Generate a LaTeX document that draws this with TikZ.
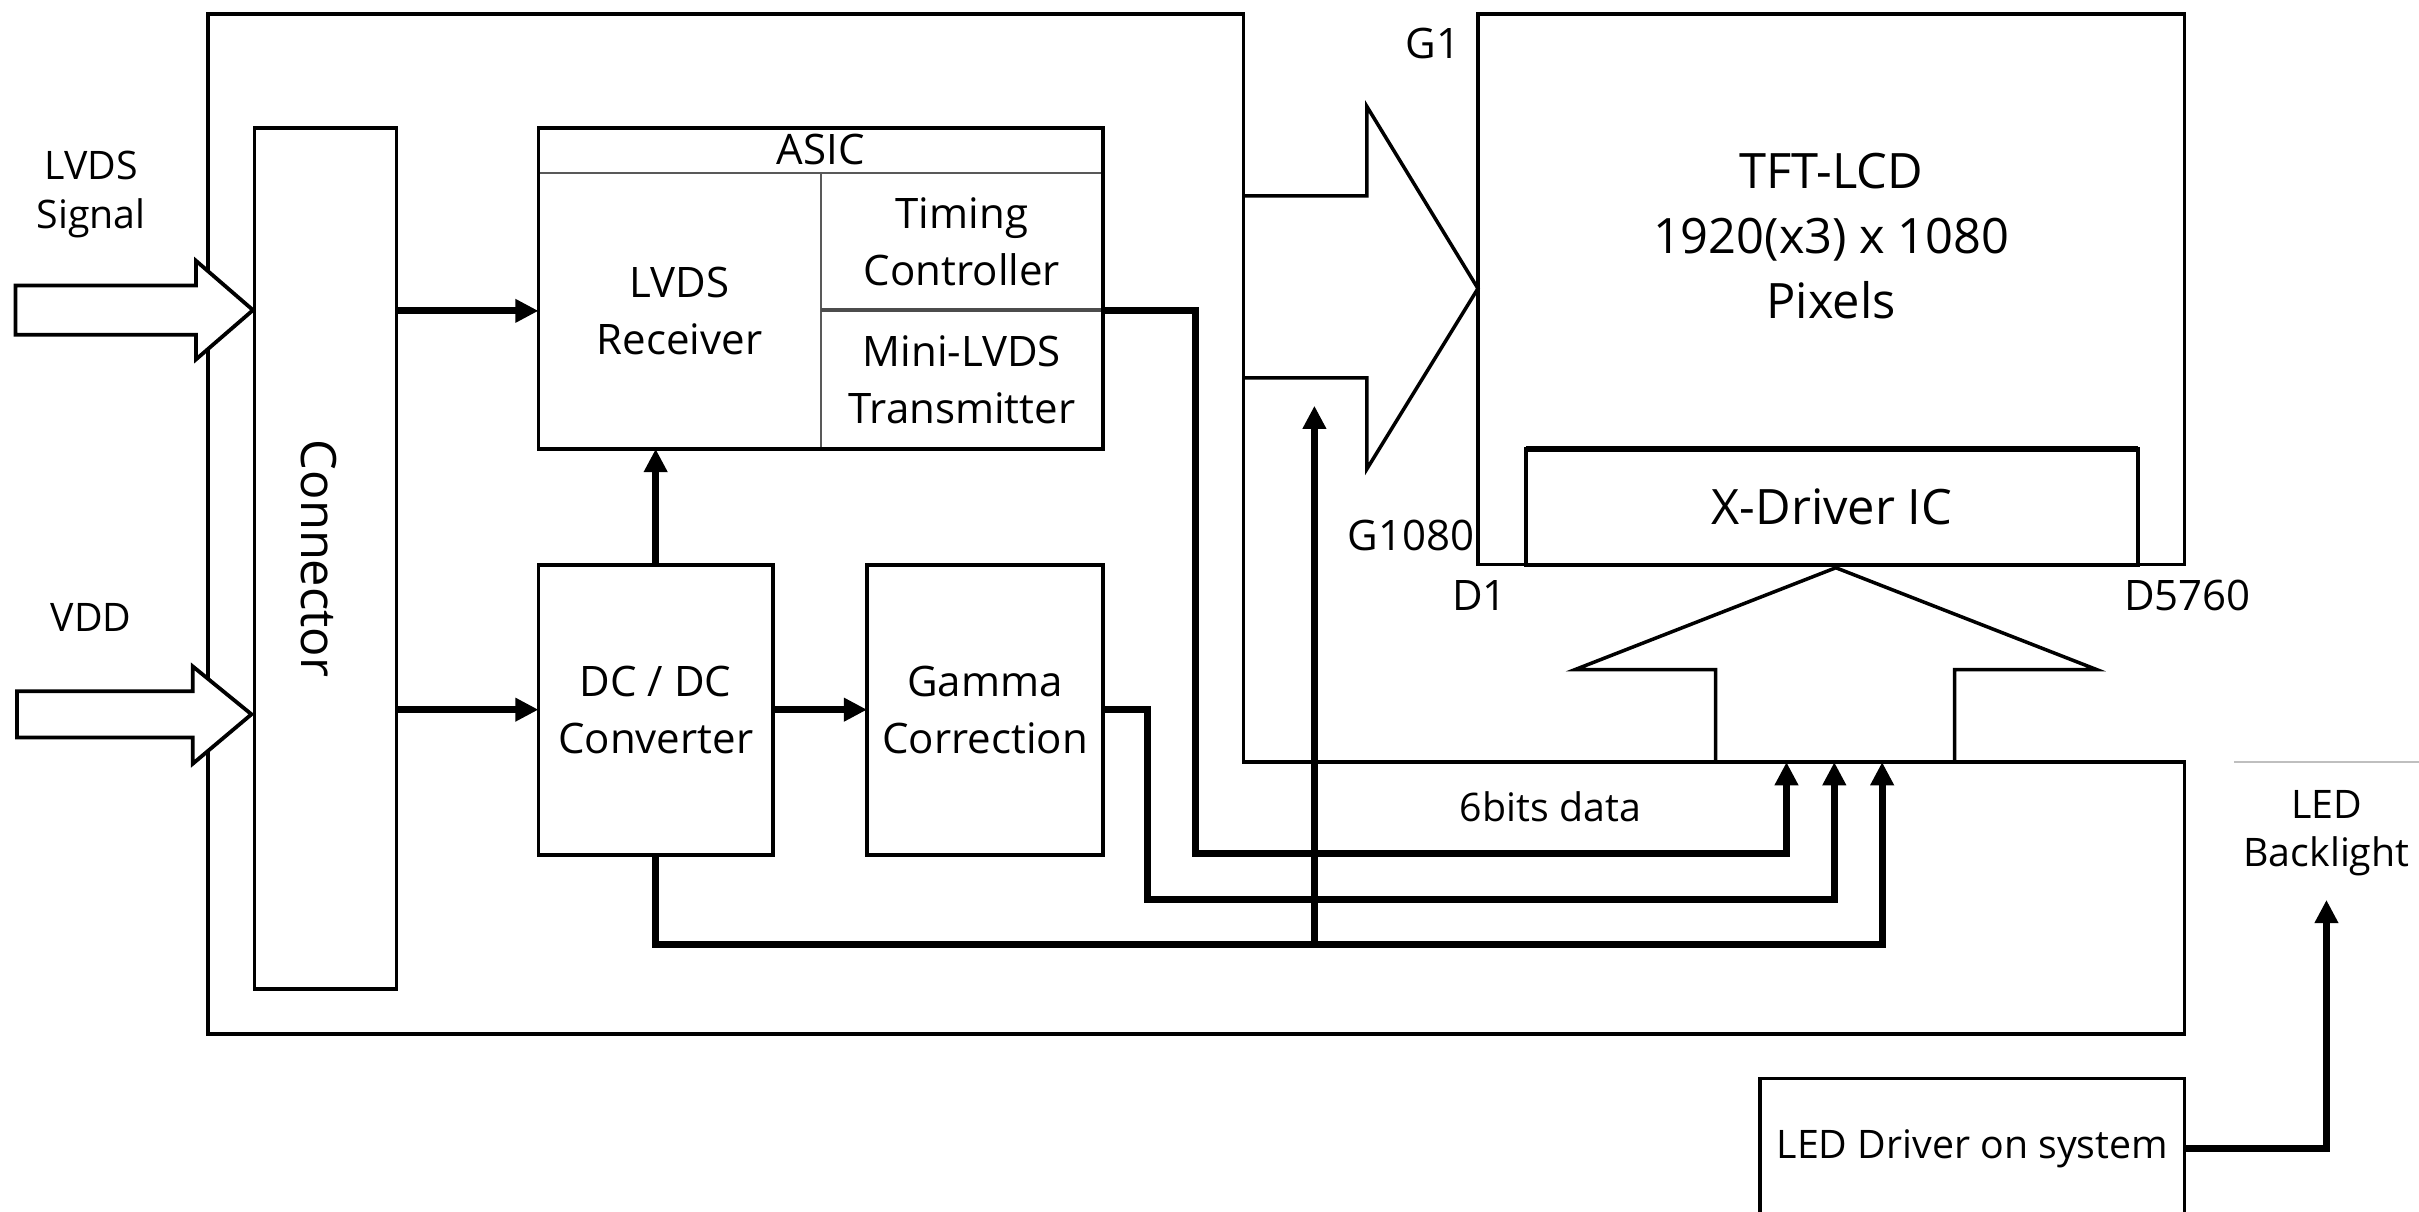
\documentclass[tikz,border=0pt]{standalone}
\usepackage{fontspec}
\setmainfont{Open Sans}
\usepackage{tikz}
\usetikzlibrary{arrows.meta,positioning}
\newcommand{\fsmain}{\fontsize{15.5}{21}\selectfont}
\newcommand{\fssmall}{\fontsize{14.5}{18}\selectfont}
\newcommand{\fsbig}{\fontsize{18}{24}\selectfont}
\tikzset{
  box/.style={draw,line width=1.4pt,inner sep=0pt,outer sep=0pt,align=center,font=\fsmain},
  part/.style={draw=black!65,line width=0.8pt,inner sep=0pt,outer sep=0pt,align=center,font=\fsmain},
  lbl/.style={inner sep=0pt,align=center,font=\fssmall},
  conn/.style={line width=2.6pt,-{Triangle[length=0.3cm,width=0.29cm]}},
  fatarrow/.style={line width=1.4pt,line join=miter,fill=white}
}

\begin{document}
\begin{tikzpicture}[x=0.02cm,y=-0.02cm]
\useasboundingbox (0,0) rectangle (1568,785);
% board outline
\draw[line width=1.4pt] (135,9) -- (806,9) -- (806,494) -- (1416,494) -- (1416,670) -- (135,670) -- cycle;
% inputs
\draw[fatarrow] (10,185) -- (127,185) -- (127,169) -- (164,201) -- (127,233) -- (127,217) -- (10,217) -- cycle;
\draw[fatarrow] (11,448) -- (125,448) -- (125,432) -- (163,463) -- (125,495) -- (125,478) -- (11,478) -- cycle;
\node[lbl] (SIG) at (59,126) {LVDS\\Signal};
\node[lbl] (VDD) at (59,400) {VDD};
% connector
\node[box,minimum width=1.84cm,minimum height=11.16cm] (CON) at (211,362) {};
\node[rotate=-90,inner sep=0pt,font=\fsbig] (CONt) at (207,362) {Connector};
% ASIC
\node[part,minimum width=3.66cm,minimum height=3.58cm] (LVDSR) at (440.5,201.5) {LVDS\\Receiver};
\node[part,minimum width=3.66cm,minimum height=1.78cm] (TCON) at (623.5,156.5) {Timing\\Controller};
\node[part,minimum width=3.66cm,minimum height=1.80cm] (MINI) at (623.5,246) {Mini-LVDS\\Transmitter};
\draw[line width=1.6pt,black!70] (TCON.south west) -- (TCON.south east);
\node[box,minimum width=7.32cm,minimum height=4.16cm] (ASIC) at (532,187) {};
\node[lbl,font=\fsmain] (ASICt) at (532,97) {ASIC};
% power and gamma
\node[box,minimum width=3.04cm,minimum height=3.76cm] (DC) at (425,460) {DC / DC\\Converter};
\node[box,minimum width=3.06cm,minimum height=3.76cm] (GAM) at (638.5,460) {Gamma\\Correction};
% panel
\node[box,minimum width=9.16cm,minimum height=7.14cm] (TFT) at (1187,187.5) {};
\node[lbl,font=\fsbig] (TFTt) at (1187,153) {TFT-LCD\\1920(x3) x 1080\\Pixels};
\node[box,font=\fsbig,minimum width=7.94cm,minimum height=1.5cm] (XD) at (1187.5,328.5) {X-Driver IC};
\draw[line width=2pt] (XD.north west) -- (XD.north east);
\node[lbl,font=\fsmain] (G1) at (929,28) {G1};
\node[lbl,font=\fsmain,anchor=east] (G1080) at (956,347) {G1080};
\node[lbl,font=\fsmain] (D1) at (959,386) {D1};
\node[lbl,font=\fsmain] (D5760) at (1418,386) {D5760};
% fat arrows into the panel
\draw[line width=1.3pt,line join=miter] (806,127) -- (886,127) -- (886,69) -- (958,187) -- (886,304) -- (886,245) -- (806,245);
\draw[line width=1.3pt,line join=miter] (1112,494) -- (1112,434) -- (1021,434) -- (1190,368) -- (1359,434) -- (1267,434) -- (1267,494);
\node[lbl] (DATA) at (1005,523) {6bits data};
% backlight
\node[box,font=\fssmall,minimum width=5.5cm,minimum height=1.82cm] (LEDD) at (1278.5,744.5) {LED Driver on system};
\node[lbl] (BL) at (1508,540) {LED\\Backlight};
\draw[gray!50,line width=0.8pt] (1448,494) -- (1568,494);
% wires
\coordinate (d1) at (1158,494);
\coordinate (d2) at (1189,494);
\coordinate (d3) at (1220,494);
\coordinate (j) at (852,612);
\coordinate (g) at (852,263);
\draw[conn] (CON.east |- LVDSR.west) -- (LVDSR.west);
\draw[conn] (CON.east |- DC.west) -- (DC.west);
\draw[conn] (DC.east) -- (GAM.west);
\draw[conn] (DC.north) -- (DC.north |- LVDSR.south);
\draw[conn] (TCON.south east) -| (775,553) -| (d1);
\draw[conn] (GAM.east) -| (744,583) -| (d2);
\draw[conn] (DC.south) |- (1220,612) -- (d3);
\draw[conn] (j) -- (g);
\draw[conn] (LEDD.east) -| ([yshift=-0.3cm]BL.south);
\end{tikzpicture}
\end{document}
